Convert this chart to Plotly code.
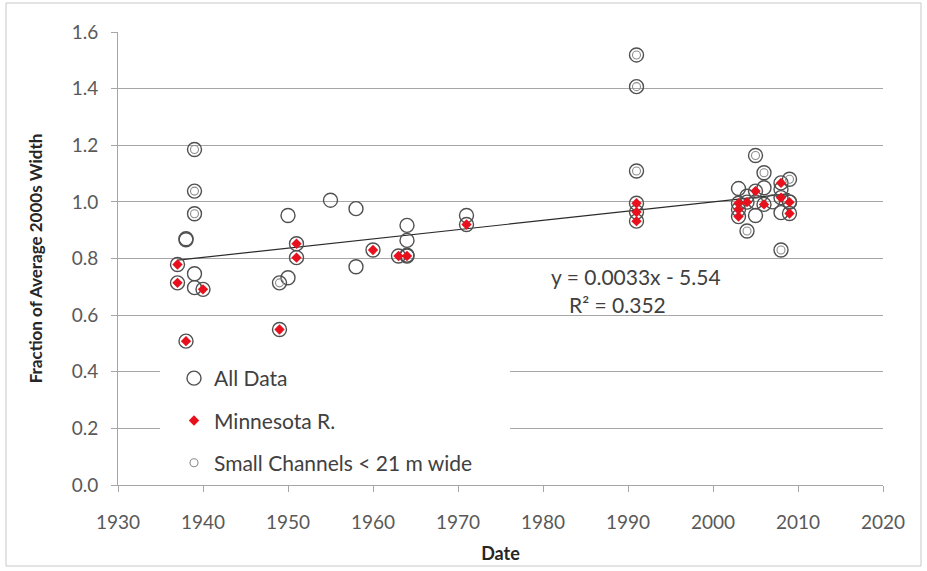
import plotly.graph_objects as go

# Minnesota River reaches
mn_year = [1937, 1937, 1938, 1940, 1949, 1951, 1951, 1960, 1963, 1964, 1971,
           1991, 1991, 1991, 2003, 2003, 2003, 2004, 2005, 2006, 2008, 2008, 2009, 2009]
mn_frac = [0.779, 0.714, 0.508, 0.691, 0.549, 0.852, 0.803, 0.830, 0.809, 0.809, 0.920,
           0.995, 0.964, 0.932, 0.995, 0.973, 0.948, 0.999, 1.038, 0.991, 1.067, 1.015, 0.999, 0.959]

# Small channels (< 21 m wide)
sc_year = [1939, 1939, 1939, 1949, 1991, 1991, 1991, 2004, 2005, 2006, 2008, 2009]
sc_frac = [1.185, 1.038, 0.958, 0.714, 1.519, 1.407, 1.109, 0.897, 1.164, 1.103, 0.830, 1.080]

# Remaining rivers
ot_year = [1938, 1938, 1939, 1939, 1950, 1950, 1955, 1958, 1958, 1964, 1964, 1964, 1971,
           2003, 2004, 2005, 2005, 2006, 2007, 2008, 2008, 2009]
ot_frac = [0.870, 0.866, 0.746, 0.697, 0.952, 0.732, 1.006, 0.976, 0.771, 0.917, 0.864, 0.812, 0.952,
           1.047, 1.020, 0.952, 1.000, 1.050, 1.000, 0.962, 1.045, 1.000]

# Linear trend over all data
trend_slope = 0.00327
trend_intercept = -5.54
trend_r2 = 0.352

x_ticks = [1930, 1940, 1950, 1960, 1970, 1980, 1990, 2000, 2010, 2020]
y_ticks = [0.0, 0.2, 0.4, 0.6, 0.8, 1.0, 1.2, 1.4, 1.6]

all_year = mn_year + sc_year + ot_year
all_frac = mn_frac + sc_frac + ot_frac

FONT = "Lato"
TXT = "#404040"
TICK = "#595959"
GRID = "#a6a6a6"

fig = go.Figure()

# trend line
tx = [min(all_year), max(all_year)]
ty = [trend_slope * v + trend_intercept for v in tx]
fig.add_trace(go.Scatter(x=tx, y=ty, mode="lines", line=dict(color="#2b2b2b", width=1.2),
                         showlegend=False, hoverinfo="skip"))

fig.add_trace(go.Scatter(
    x=all_year, y=all_frac, mode="markers", name="All Data", legendgroup="a", legendrank=1,
    marker=dict(symbol="circle-open", size=14, color="#505050", line=dict(width=1.4, color="#505050")),
))
fig.add_trace(go.Scatter(
    x=sc_year, y=sc_frac, mode="markers", name="Small Channels < 21 m wide", legendgroup="c", legendrank=3,
    marker=dict(symbol="circle-open", size=8, color="#8c8c8c", line=dict(width=1.1, color="#8c8c8c")),
))
fig.add_trace(go.Scatter(
    x=mn_year, y=mn_frac, mode="markers", name="Minnesota R.", legendgroup="b", legendrank=2,
    marker=dict(symbol="diamond", size=8, color="#e8101c", line=dict(width=0)),
))

eq_text = f"y = {trend_slope:.2g}x - {abs(trend_intercept):.2f}"
fig.add_annotation(x=1990.9, y=0.735, xref="x", yref="y", text=eq_text, showarrow=False,
                   font=dict(family=FONT, size=21, color=TXT), xanchor="center", yanchor="middle")
fig.add_annotation(x=1988.8, y=0.636, xref="x", yref="y", text=f"R² = {trend_r2:.3f}", showarrow=False,
                   font=dict(family=FONT, size=21, color=TXT), xanchor="center", yanchor="middle")

# white panel behind the legend, covering the gridlines
fig.add_shape(type="rect", xref="paper", yref="paper",
              x0=(160 - 118) / 765, x1=(510 - 118) / 765,
              y0=(485 - 478) / 453, y1=(485 - 352) / 453,
              fillcolor="white", line=dict(width=0), layer="above")

# chart frame
fig.add_shape(type="rect", xref="paper", yref="paper",
              x0=(6 - 118) / 765, x1=(921 - 118) / 765,
              y0=(485 - 566) / 453, y1=(485 - 3) / 453,
              line=dict(color="#c8c8c8", width=1), fillcolor="rgba(0,0,0,0)", layer="above")

fig.update_layout(
    width=927, height=571,
    margin=dict(l=118, r=44, t=32, b=86),
    paper_bgcolor="white", plot_bgcolor="white",
    font=dict(family=FONT, size=19, color=TICK),
    showlegend=True,
    legend=dict(
        x=(174 - 118) / 765, y=(485 - 358) / 453, xanchor="left", yanchor="top",
        bgcolor="rgba(255,255,255,0)", borderwidth=0,
        font=dict(family=FONT, size=21, color=TXT),
        traceorder="grouped", tracegroupgap=12,
    ),
    xaxis=dict(
        range=[1930, 2020], tickvals=x_ticks, ticktext=[str(v) for v in x_ticks],
        showgrid=False, zeroline=False,
        showline=True, linecolor=GRID, linewidth=1,
        ticks="outside", ticklen=6, tickcolor=GRID, ticklabelstandoff=14,
        tickfont=dict(family=FONT, size=19, color=TICK),
        title=dict(text="<b>Date</b>", font=dict(family=FONT, size=18, color="#262626"), standoff=15),
    ),
    yaxis=dict(
        range=[0, 1.6], tickvals=y_ticks, ticktext=[f"{v:.1f}" for v in y_ticks],
        showgrid=True, gridcolor=GRID, gridwidth=1, zeroline=False,
        showline=True, linecolor=GRID, linewidth=1,
        ticks="outside", ticklen=6, tickcolor=GRID, ticklabelstandoff=9,
        tickfont=dict(family=FONT, size=19, color=TICK),
        title=dict(text="<b>Fraction of Average 2000s Width</b>",
                   font=dict(family=FONT, size=17, color="#262626"), standoff=24),
    ),
)

fig.write_html("out.html")
